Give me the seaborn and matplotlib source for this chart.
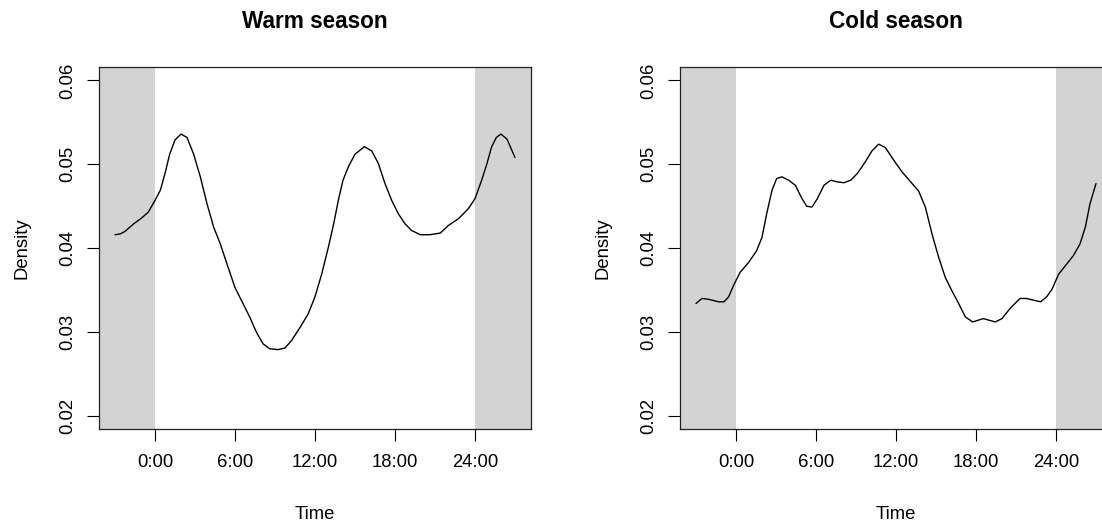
import matplotlib
matplotlib.use("Agg")
import matplotlib.pyplot as plt
import seaborn as sns
import pandas as pd

# ---- data ----
x_ticks = [0, 6, 12, 18, 24]
x_tick_labels = ["0:00", "6:00", "12:00", "18:00", "24:00"]
y_ticks = [0.02, 0.03, 0.04, 0.05, 0.06]
y_tick_labels = ["0.02", "0.03", "0.04", "0.05", "0.06"]
night_end = 0
night_start = 24

warm_hours = [-3.0, -2.6, -2.25, -1.6, -1.0, -0.5, 0.0, 0.4, 0.75, 1.1, 1.5, 1.95, 2.4, 2.9, 3.4, 3.9,
              4.4, 4.9, 5.4, 6.0, 6.6, 7.1, 7.6, 8.1, 8.6, 9.25, 9.75, 10.25, 10.9, 11.5, 12.0, 12.5,
              13.0, 13.4, 13.75, 14.1, 14.5, 15.0, 15.7, 16.25, 16.75, 17.25, 17.75, 18.25, 18.75,
              19.25, 19.9, 20.6, 21.4, 22.0, 22.75, 23.5, 24.0, 24.5, 24.9, 25.25, 25.6, 25.95, 26.4, 27.0]
warm_density = [0.0416, 0.0417, 0.0420, 0.0429, 0.0436, 0.0443, 0.0457, 0.0469, 0.0489, 0.0512, 0.0529,
                0.0536, 0.0532, 0.0512, 0.0485, 0.0453, 0.0425, 0.0405, 0.0381, 0.0353, 0.0334, 0.0318,
                0.0300, 0.0286, 0.0280, 0.0279, 0.0281, 0.0290, 0.0306, 0.0322, 0.0342, 0.0369, 0.0401,
                0.0429, 0.0457, 0.0481, 0.0497, 0.0512, 0.0521, 0.0516, 0.0501, 0.0477, 0.0457, 0.0441,
                0.0429, 0.0421, 0.0416, 0.0416, 0.0418, 0.0427, 0.0435, 0.0447, 0.0459, 0.0481, 0.0501,
                0.0521, 0.0532, 0.0536, 0.0530, 0.0508]

cold_hours = [-3.0, -2.55, -2.05, -1.3, -0.9, -0.55, -0.2, 0.3, 0.95, 1.55, 1.95, 2.3, 2.7, 3.05, 3.45,
              3.95, 4.45, 4.95, 5.3, 5.7, 6.1, 6.6, 7.1, 7.6, 8.1, 8.6, 9.1, 9.7, 10.2, 10.7, 11.2, 11.7,
              12.0, 12.45, 13.1, 13.7, 14.2, 14.7, 15.2, 15.7, 16.2, 16.7, 17.2, 17.75, 18.55, 19.45,
              19.95, 20.55, 21.3, 21.8, 22.3, 22.85, 23.3, 23.7, 24.2, 24.8, 25.3, 25.8, 26.2, 26.55, 27.0]
cold_density = [0.0334, 0.0340, 0.0339, 0.0336, 0.0336, 0.0342, 0.0355, 0.0371, 0.0383, 0.0397, 0.0413,
                0.0441, 0.0469, 0.0483, 0.0485, 0.0481, 0.0475, 0.0459, 0.0450, 0.0449, 0.0459, 0.0475,
                0.0481, 0.0479, 0.0478, 0.0481, 0.0489, 0.0503, 0.0516, 0.0524, 0.0520, 0.0508, 0.0501,
                0.0491, 0.0479, 0.0468, 0.0449, 0.0417, 0.0389, 0.0365, 0.0349, 0.0334, 0.0318, 0.0312,
                0.0316, 0.0312, 0.0316, 0.0328, 0.0340, 0.0340, 0.0338, 0.0336, 0.0342, 0.0351, 0.0369,
                0.0381, 0.0391, 0.0405, 0.0425, 0.0453, 0.0477]

titles = ["Warm season", "Cold season"]

# ---- style ----
sns.set_theme(style="white")
plt.rcParams["font.family"] = ["Liberation Sans", "DejaVu Sans"]
plt.rcParams["text.color"] = "black"
plt.rcParams["axes.labelcolor"] = "black"
plt.rcParams["xtick.color"] = "black"
plt.rcParams["ytick.color"] = "black"
plt.rcParams["xtick.labelcolor"] = "black"
plt.rcParams["ytick.labelcolor"] = "black"

W, H = 1102, 524
fig = plt.figure(figsize=(W / 100, H / 100), dpi=100)

ax_w_px, ax_h_px = 432, 362.3
bottom_px = 429.3
lefts_px = [99, 680]

xlim = (-4.2, 28.2)
ylim = (0.0184, 0.0616)

series = [(warm_hours, warm_density), (cold_hours, cold_density)]

for i, (hours, dens) in enumerate(series):
    ax = fig.add_axes([lefts_px[i] / W, 1 - bottom_px / H, ax_w_px / W, ax_h_px / H])
    ax.set_facecolor("white")
    ax.axvspan(xlim[0], night_end, color="#D3D3D3", lw=0, zorder=0)
    ax.axvspan(night_start, xlim[1], color="#D3D3D3", lw=0, zorder=0)
    df = pd.DataFrame({"Time": hours, "Density": dens})
    sns.lineplot(data=df, x="Time", y="Density", ax=ax, color="black",
                 linewidth=1.0, estimator=None, sort=False, zorder=3,
                 solid_joinstyle="round", solid_capstyle="round")
    ax.set_xlim(*xlim)
    ax.set_ylim(*ylim)
    ax.set_xticks(x_ticks)
    ax.set_xticklabels(x_tick_labels, fontsize=13.3, color="black")
    ax.set_yticks(y_ticks)
    ax.set_yticklabels(y_tick_labels, fontsize=13.3, rotation=90, va="center", color="black")
    ax.tick_params(axis="both", which="both", direction="out", length=8.6, width=0.8,
                   color="black", bottom=True, left=True, top=False, right=False)
    ax.tick_params(axis="x", pad=9.5)
    ax.tick_params(axis="y", pad=7.5)
    for sp in ax.spines.values():
        sp.set_visible(True)
        sp.set_color("#222222")
        sp.set_linewidth(0.9)
    ax.grid(False)
    ax.set_xlabel("Time", fontsize=13.3, labelpad=25, color="black")
    ax.set_ylabel("Density", fontsize=13.3, labelpad=21, color="black")
    ax.set_title(titles[i], fontsize=16.3, fontweight="bold", pad=27.9, color="black")

fig.savefig("out.png", dpi=100)
